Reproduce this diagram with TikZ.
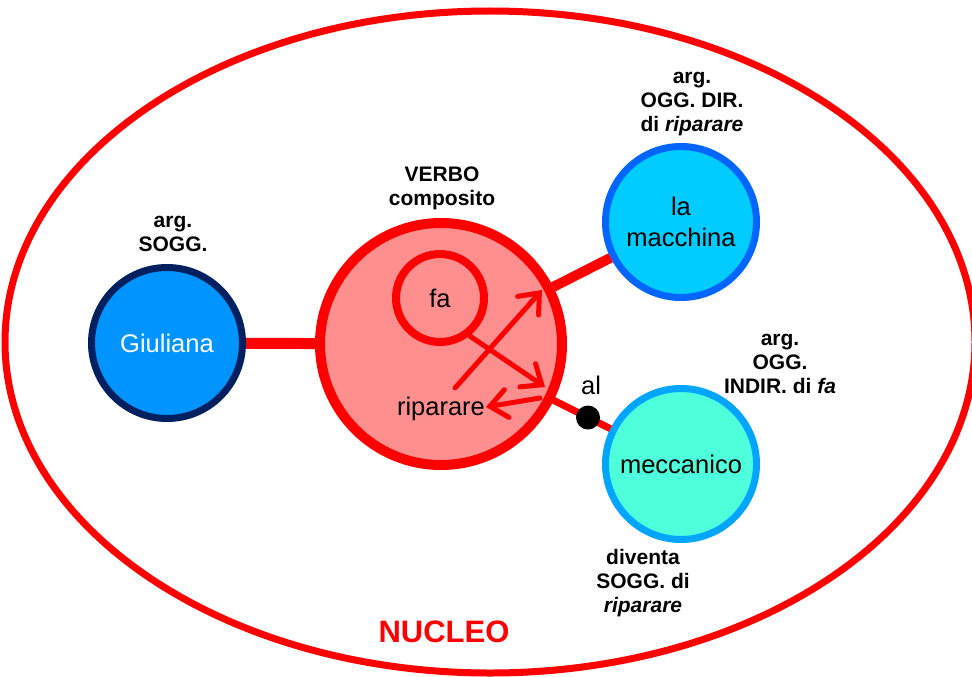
\documentclass[tikz,border=0pt]{standalone}
\usepackage{fontspec}
\setmainfont{Liberation Sans}
\usetikzlibrary{arrows.meta}
\definecolor{myred}{RGB}{255,0,0}
\definecolor{verbofill}{RGB}{255,143,143}
\definecolor{giufill}{RGB}{0,148,255}
\definecolor{giuline}{RGB}{0,32,96}
\definecolor{macfill}{RGB}{0,204,255}
\definecolor{macline}{RGB}{0,102,255}
\definecolor{mecfill}{RGB}{77,255,219}
\definecolor{mecline}{RGB}{0,165,255}
\begin{document}
\begin{tikzpicture}[x=1pt,y=-1pt,
  bigtxt/.style={font=\fontsize{25.5}{29}\selectfont, align=center, inner sep=0pt},
  lbl/.style={font=\fontsize{21}{24}\selectfont\bfseries, align=center, inner sep=0pt},
  argcircle/.style={circle, line width=7pt, minimum size=151pt, inner sep=0pt,
    font=\fontsize{25.5}{31}\selectfont, align=center},
  conn/.style={draw=myred},
  arr/.style={draw=myred, line width=5pt, line cap=round,
    -{Straight Barb[length=17pt,width=28pt,line cap=round]}},
  dotnode/.style={circle, fill=black, minimum size=24pt, inner sep=0pt}
]
\useasboundingbox (0,0) rectangle (972,677);
\fill[white] (0,0) rectangle (972,677);

% outer ellipse
\draw[myred, line width=7pt] (490,342) ellipse [x radius=485, y radius=331];
\node[font=\fontsize{31}{34}\selectfont\bfseries, text=myred, inner sep=0pt] (nucleo) at (444,632) {NUCLEO};

% main nodes
\node[circle, draw=myred, fill=verbofill, line width=10pt, minimum size=242pt, inner sep=0pt] (verbo) at (441,344) {};
\node[circle, draw=myred, fill=verbofill, line width=8pt, minimum size=88pt, inner sep=0pt,
      font=\fontsize{25.5}{29}\selectfont] (fa) at (440,298) {fa};
\node[bigtxt] (rip) at (441,409) {riparare};

\node[argcircle, draw=giuline, fill=giufill, text=white] (giu) at (167,343) {Giuliana};
\node[argcircle, draw=macline, fill=macfill] (mac) at (681,222) {la\\macchina};
\node[argcircle, draw=mecline, fill=mecfill] (mec) at (681,464) {meccanico};

% connectors
\draw[conn, line width=11pt] (giu) -- (verbo);
\draw[conn, line width=10pt] (verbo) -- (mac);
\draw[conn, line width=7pt] (verbo) -- (mec);
\node[dotnode] (aldot) at (588,417.5) {};
\node[bigtxt] (al) at (591,385) {al};

% arrows inside the verb
\coordinate (a1s) at (455,388);
\coordinate (a1e) at (542,290);
\coordinate (a2e) at (545,387);
\coordinate (a3s) at (540,398);
\coordinate (a3e) at (486,407);
\draw[arr] (a1s) -- (a1e);
\draw[arr] (fa.-52) -- (a2e);
\draw[arr] (a3s) -- (a3e);

% labels
\node[lbl] (lsogg) at (173,233.5) {arg.\\SOGG.};
\node[lbl] (lverbo) at (442,188.5) {VERBO\\composito};
\node[lbl] (ldir) at (692,104) {arg.\\OGG. DIR.\\di \textit{riparare}};
\node[lbl] (lindir) at (780,364) {arg.\\OGG.\\INDIR. di \textit{fa}};
\node[lbl] (ldiv) at (643,583) {diventa\\SOGG. di\\\textit{riparare}};
\end{tikzpicture}
\end{document}
